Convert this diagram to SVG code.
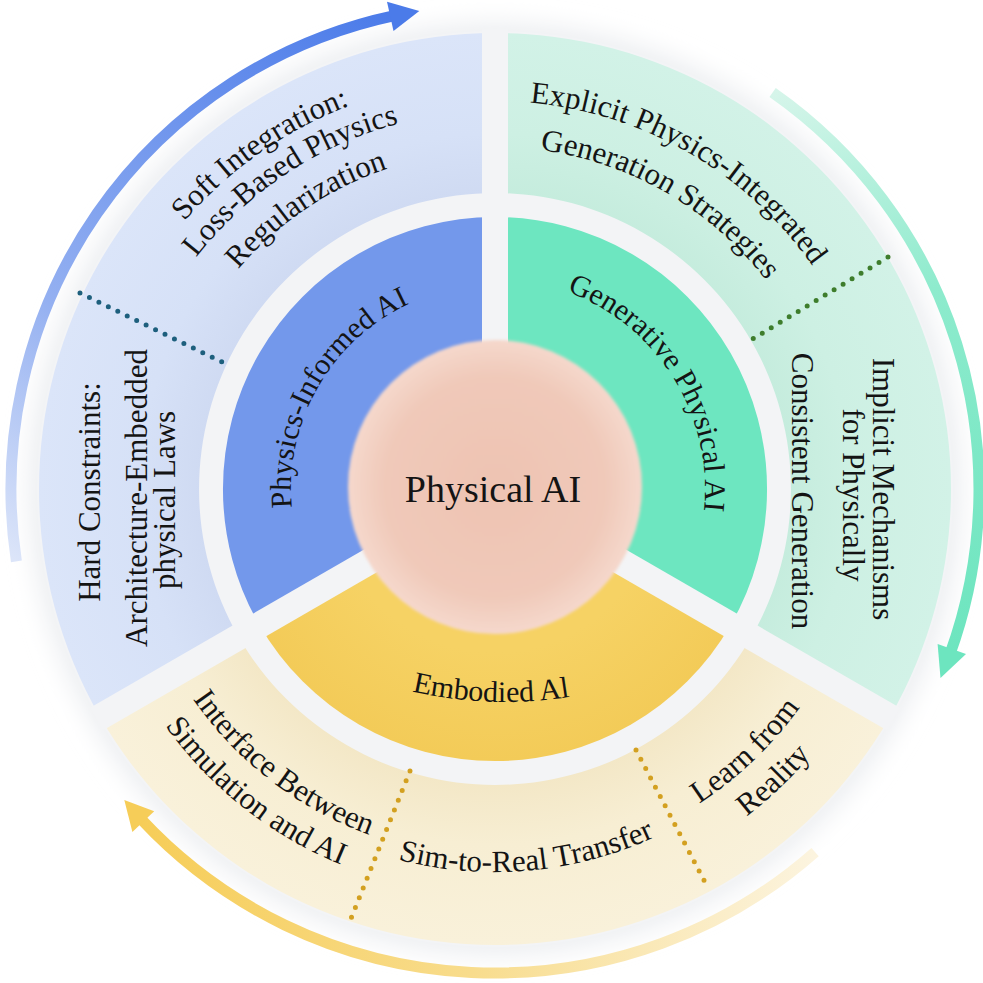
<svg xmlns="http://www.w3.org/2000/svg" width="983" height="983" viewBox="0 0 983 983">
<defs>
<style>
.t{font-family:"Liberation Serif","Times New Roman",serif;fill:#141414;}
.o{font-size:31px;}
.m{font-size:30px;}
.c{font-size:38px;}
.gap{stroke:#f3f4f6;stroke-width:26;fill:none;}
.dot{fill:none;stroke-width:5;stroke-linecap:round;stroke-dasharray:0 10.5;}
.arr{fill:none;stroke-width:11;}
</style>
<filter id="shadow" x="-20%" y="-20%" width="140%" height="140%"><feGaussianBlur stdDeviation="12"/></filter>
<filter id="soft" x="-10%" y="-10%" width="120%" height="120%"><feGaussianBlur stdDeviation="1.5"/></filter>
<radialGradient id="gOB" gradientUnits="userSpaceOnUse" cx="495" cy="489" r="456"><stop offset="0.64" stop-color="#cfdaf2"/><stop offset="0.78" stop-color="#d6e1f7"/><stop offset="1" stop-color="#dbe5f9"/></radialGradient>
<radialGradient id="gOG" gradientUnits="userSpaceOnUse" cx="495" cy="489" r="456"><stop offset="0.64" stop-color="#c5ecdd"/><stop offset="0.78" stop-color="#cdf0e3"/><stop offset="1" stop-color="#d2f2e7"/></radialGradient>
<radialGradient id="gOY" gradientUnits="userSpaceOnUse" cx="495" cy="489" r="456"><stop offset="0.64" stop-color="#f3e7c6"/><stop offset="0.78" stop-color="#f7eed3"/><stop offset="1" stop-color="#f9f1da"/></radialGradient>
<radialGradient id="gMY" gradientUnits="userSpaceOnUse" cx="495" cy="489" r="272"><stop offset="0.6" stop-color="#f6d264"/><stop offset="1" stop-color="#f3cb58"/></radialGradient>
<radialGradient id="gP" cx="0.5" cy="0.5" r="0.5"><stop offset="0" stop-color="#eec3b2"/><stop offset="0.75" stop-color="#f0c9b9"/><stop offset="1" stop-color="#f5d8cc"/></radialGradient>
<linearGradient id="aB" gradientUnits="userSpaceOnUse" x1="16" y1="561" x2="394" y2="16"><stop offset="0" stop-color="#dce5f9"/><stop offset="0.35" stop-color="#94b0f1"/><stop offset="1" stop-color="#4b7be9"/></linearGradient>
<linearGradient id="aG" gradientUnits="userSpaceOnUse" x1="772" y1="92" x2="950" y2="654"><stop offset="0" stop-color="#d6f5ea"/><stop offset="0.4" stop-color="#8eebcd"/><stop offset="1" stop-color="#6de5bf"/></linearGradient>
<linearGradient id="aY" gradientUnits="userSpaceOnUse" x1="815" y1="852" x2="141" y2="819"><stop offset="0" stop-color="#fcf4df"/><stop offset="0.5" stop-color="#f8dc8c"/><stop offset="1" stop-color="#f6cd58"/></linearGradient>
<path id="r410t" d="M139.9,284 A410,410 0 0 1 850.1,284"/>
<path id="r378t" d="M167.7,300 A378,378 0 0 1 822.3,300"/>
<path id="r338t" d="M202.3,320 A338,338 0 0 1 787.7,320"/>
<path id="r388t" d="M159,295 A388,388 0 0 1 831,295"/>
<path id="r342t" d="M198.8,318 A342,342 0 0 1 791.2,318"/>
<path id="r204t" d="M318.3,387 A204,204 0 0 1 671.7,387"/>
<path id="r210t" d="M313.1,384 A210,210 0 0 1 676.9,384"/>
<path id="r368b" d="M176.3,673 A368,368 0 0 0 813.7,673"/>
<path id="r406b" d="M143.4,692 A406,406 0 0 0 846.6,692"/>
<path id="r383b" d="M163.3,680.5 A383,383 0 0 0 826.7,680.5"/>
<path id="r375b" d="M170.2,676.5 A375,375 0 0 0 819.8,676.5"/>
<path id="r413b" d="M137.3,695.5 A413,413 0 0 0 852.7,695.5"/>
<path id="emb" d="M327.5,662.6 A420,420 0 0 0 682.5,662.6"/>
</defs>

<g id="backdrop">
<circle cx="495" cy="489" r="466" fill="#eceef1" filter="url(#shadow)"/>
<circle cx="495" cy="489" r="458" fill="#f3f4f6"/>
</g>

<g id="connectors">
<path class="arr" stroke="url(#aB)" d="M16.4,561.4 A484,484 0 0 1 394.4,15.6"/>
<polygon fill="#4b7be9" points="387,1.8 419.3,11 393.5,31.1"/>
<path class="arr" stroke="url(#aG)" d="M772.6,92.5 A484,484 0 0 1 949.8,654.5"/>
<polygon fill="#6de5bf" points="966,653.9 940.5,678.1 937.6,644"/>
<path class="arr" stroke="url(#aY)" d="M815.1,852 A484,484 0 0 1 141,819.1"/>
<polygon fill="#f6cd58" points="154.2,811.2 124.3,800.1 132.4,831.9"/>
</g>

<g id="outer-physics-informed">
<path fill="url(#gOB)" d="M100.1,717 A456,456 0 0 1 495,33 L495,193 A296,296 0 0 0 238.7,637 Z"/>
</g>
<g id="outer-generative">
<path fill="url(#gOG)" d="M495,33 A456,456 0 0 1 889.9,717 L751.3,637 A296,296 0 0 0 495,193 Z"/>
</g>
<g id="outer-embodied">
<path fill="url(#gOY)" d="M889.9,717 A456,456 0 0 1 100.1,717 L238.7,637 A296,296 0 0 0 751.3,637 Z"/>
</g>

<g id="mid-physics-informed"><path fill="#7398eb" d="M495,489 L259.4,625 A272,272 0 0 1 495,217 Z"/></g>
<g id="mid-generative"><path fill="#6de6c0" d="M495,489 L495,217 A272,272 0 0 1 730.6,625 Z"/></g>
<g id="mid-embodied"><path fill="url(#gMY)" d="M495,489 L730.6,625 A272,272 0 0 1 259.4,625 Z"/></g>

<g id="gaps">
<line class="gap" x1="495" y1="489" x2="495" y2="29"/>
<line class="gap" x1="495" y1="489" x2="893.4" y2="719"/>
<line class="gap" x1="495" y1="489" x2="96.6" y2="719"/>
</g>

<g id="dividers">
<line class="dot" stroke="#1d5f7d" x1="80" y1="293" x2="222" y2="362"/>
<line class="dot" stroke="#3e7d2c" x1="888" y1="257" x2="746" y2="343"/>
<line class="dot" stroke="#d3a020" x1="410" y1="771" x2="348" y2="926"/>
<line class="dot" stroke="#d3a020" x1="636" y1="750" x2="708" y2="888"/>
</g>

<g id="center">
<circle cx="495" cy="487" r="147" fill="url(#gP)" filter="url(#soft)"/>
<text class="t c" x="493" y="502" text-anchor="middle">Physical AI</text>
</g>

<g id="label-physics-informed">
<text class="t m" text-anchor="middle" transform="rotate(-60 495 489)"><textPath href="#r204t" startOffset="50%">Physics-Informed AI</textPath></text>
</g>
<g id="label-generative">
<text class="t m" text-anchor="middle" transform="rotate(58 495 489)"><textPath href="#r210t" startOffset="50%">Generative Physical AI</textPath></text>
</g>
<g id="label-embodied">
<text class="t m" text-anchor="middle"><textPath href="#emb" startOffset="169">Embodied Al</textPath></text>
</g>

<g id="label-soft">
<text class="t o" text-anchor="middle" transform="rotate(-35 495 489)"><textPath href="#r410t" startOffset="50%">Soft Integration:</textPath></text>
<text class="t o" text-anchor="middle" transform="rotate(-33.5 495 489)"><textPath href="#r378t" startOffset="50%">Loss-Based Physics</textPath></text>
<text class="t o" text-anchor="middle" transform="rotate(-34 495 489)"><textPath href="#r338t" startOffset="50%">Regularization</textPath></text>
</g>
<g id="label-hard">
<text class="t o" text-anchor="middle" transform="translate(100,492) rotate(-90)">Hard Constraints:</text>
<text class="t o" text-anchor="middle" transform="translate(147,498) rotate(-90)">Architecture-Embedded</text>
<text class="t o" text-anchor="middle" transform="translate(175,500) rotate(-90)">physical Laws</text>
</g>
<g id="label-explicit">
<text class="t o" text-anchor="middle" transform="rotate(30 495 489)"><textPath href="#r388t" startOffset="50%">Explicit Physics-Integrated</textPath></text>
<text class="t o" text-anchor="middle" transform="rotate(30 495 489)"><textPath href="#r342t" startOffset="50%">Generation Strategies</textPath></text>
</g>
<g id="label-implicit">
<text class="t o" text-anchor="middle" transform="translate(873,489) rotate(90)">Implicit Mechanisms</text>
<text class="t o" text-anchor="middle" transform="translate(843,495) rotate(90)">for Physically</text>
<text class="t o" text-anchor="middle" transform="translate(792,491) rotate(90)">Consistent Generation</text>
</g>
<g id="label-interface">
<text class="t o" text-anchor="middle" transform="rotate(37.6 495 489)"><textPath href="#r368b" startOffset="50%">Interface Between</textPath></text>
<text class="t o" text-anchor="middle" transform="rotate(38.3 495 489)"><textPath href="#r406b" startOffset="50%">Simulation and AI</textPath></text>
</g>
<g id="label-sim2real">
<text class="t o" text-anchor="middle" transform="rotate(-5 495 489)"><textPath href="#r383b" startOffset="50%">Sim-to-Real Transfer</textPath></text>
</g>
<g id="label-learn">
<text class="t o" text-anchor="middle" transform="rotate(-43.7 495 489)"><textPath href="#r375b" startOffset="50%">Learn from</textPath></text>
<text class="t o" text-anchor="middle" transform="rotate(-43.7 495 489)"><textPath href="#r413b" startOffset="50%">Reality</textPath></text>
</g>
</svg>
